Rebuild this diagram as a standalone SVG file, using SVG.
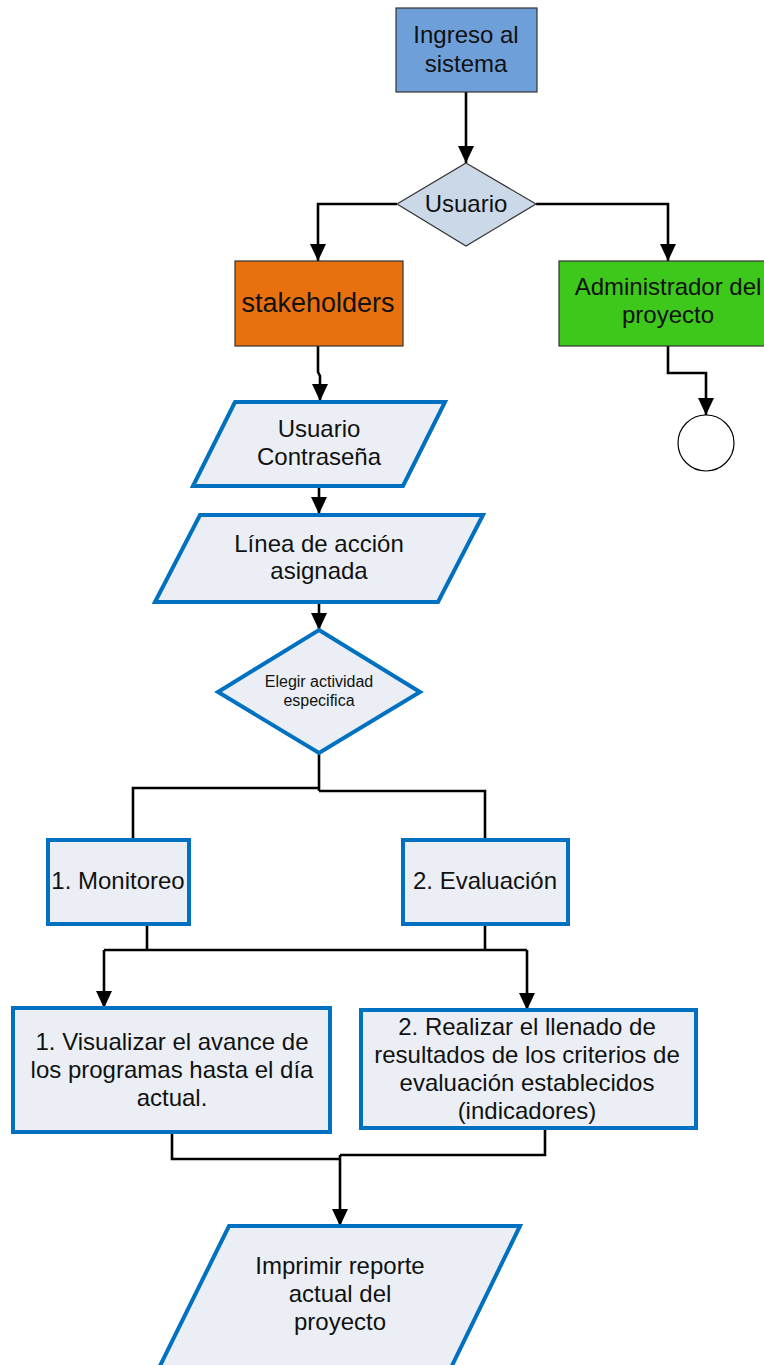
<svg xmlns="http://www.w3.org/2000/svg" width="764" height="1365" viewBox="0 0 764 1365">
<defs>
<marker id="arr" markerUnits="userSpaceOnUse" markerWidth="17" markerHeight="16" refX="17" refY="8" orient="auto" viewBox="0 0 17 16">
<path d="M0,0 L17,8 L0,16 z" fill="#000"/>
</marker>
</defs>
<style>
text{font-family:"Liberation Sans",Arial,sans-serif;font-size:24px;fill:#111;text-anchor:middle}
.dark{stroke:#333;stroke-width:1.2}
.blue{fill:#ebeff5;stroke:#0070c0;stroke-width:4;stroke-linejoin:miter}
.con{fill:none;stroke:#000;stroke-width:2.6}
.arw{marker-end:url(#arr)}
</style>
<rect width="764" height="1365" fill="#fff"/>
<g id="connectors">
<path class="con arw" d="M466,92 V163"/>
<path class="con arw" d="M397,204 H318 V261"/>
<path class="con arw" d="M536,204 H668 V261"/>
<path class="con arw" d="M318,346 V372 L320,376 V401"/>
<path class="con arw" d="M668,346 V373 H706 V415"/>
<path class="con arw" d="M319,486 V514"/>
<path class="con arw" d="M319,602 V630"/>
<path class="con" d="M319,753 V791 M319,788 H133 V840 M319,791 H485 V840"/>
<path class="con" d="M147,924 V950 M485,924 V950 M104,950 H527"/>
<path class="con arw" d="M104,950 V1008"/>
<path class="con arw" d="M527,950 V1010"/>
<path class="con" d="M172,1132 V1159 H340 M545,1128 V1155 H340"/>
<path class="con arw" d="M340,1155 V1226"/>
</g>
<g id="ingreso">
<rect class="dark" x="396" y="8" width="141" height="84" fill="#6f9fd9"/>
<text x="466" y="43">Ingreso al</text>
<text x="466" y="72">sistema</text>
</g>
<g id="usuario">
<polygon class="dark" points="466,163 536,204 466,246 397,204" fill="#cbd8e8"/>
<text x="466" y="212">Usuario</text>
</g>
<g id="stakeholders">
<rect class="dark" x="235" y="261" width="168" height="85" fill="#e8700f"/>
<text x="318" y="312" style="font-size:27px">stakeholders</text>
</g>
<g id="administrador">
<rect class="dark" x="559" y="261" width="218" height="85" fill="#3dc81b"/>
<text x="668" y="295">Administrador del</text>
<text x="668" y="323">proyecto</text>
</g>
<g id="fin">
<circle cx="706" cy="443" r="28" fill="#fff" stroke="#000" stroke-width="1.2"/>
</g>
<g id="credenciales">
<polygon class="blue" points="235,402 445,402 403,486 193,486"/>
<text x="319" y="437">Usuario</text>
<text x="319" y="465">Contraseña</text>
</g>
<g id="linea">
<polygon class="blue" points="200,515 483,515 438,602 155,602"/>
<text x="319" y="552">Línea de acción</text>
<text x="319" y="579">asignada</text>
</g>
<g id="elegir">
<polygon class="blue" points="319,630 420,692 319,753 218,692"/>
<text x="319" y="687" style="font-size:16px">Elegir actividad</text>
<text x="319" y="706" style="font-size:16px">especifica</text>
</g>
<g id="monitoreo">
<rect class="blue" x="48" y="840" width="141" height="84"/>
<text x="118" y="889">1. Monitoreo</text>
</g>
<g id="evaluacion">
<rect class="blue" x="403" y="840" width="165" height="84"/>
<text x="485" y="889">2. Evaluación</text>
</g>
<g id="visualizar">
<rect class="blue" x="13" y="1008" width="317" height="124"/>
<text x="172" y="1050">1. Visualizar el avance de</text>
<text x="172" y="1078">los programas hasta el día</text>
<text x="172" y="1106">actual.</text>
</g>
<g id="realizar">
<rect class="blue" x="361" y="1010" width="335" height="118"/>
<text x="527" y="1035">2. Realizar el llenado de</text>
<text x="527" y="1063">resultados de los criterios de</text>
<text x="527" y="1091">evaluación establecidos</text>
<text x="527" y="1119">(indicadores)</text>
</g>
<g id="imprimir">
<polygon class="blue" points="229,1226 520,1226 445,1380 153,1380"/>
<text x="340" y="1274">Imprimir reporte</text>
<text x="340" y="1302">actual del</text>
<text x="340" y="1330">proyecto</text>
</g>
</svg>
